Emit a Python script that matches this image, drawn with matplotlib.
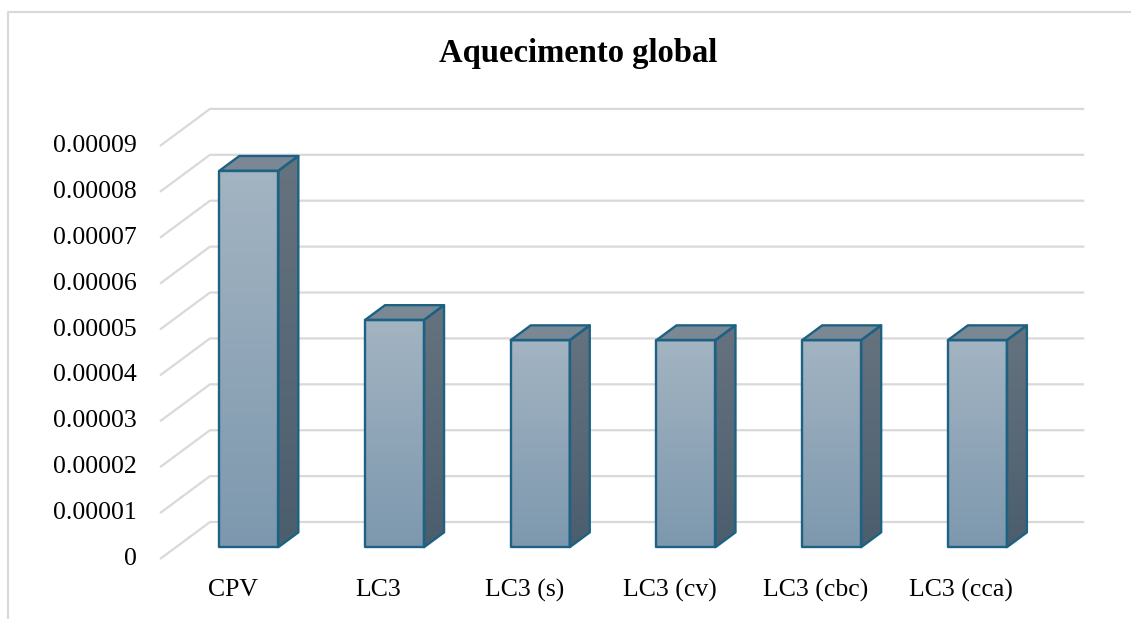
import numpy as np
import matplotlib
matplotlib.use("Agg")
import matplotlib.pyplot as plt
from matplotlib.patches import Polygon
from matplotlib.lines import Line2D

categories = ["CPV", "LC3", "LC3 (s)", "LC3 (cv)", "LC3 (cbc)", "LC3 (cca)"]
values = [0.0000820, 0.0000495, 0.0000451, 0.0000451, 0.0000451, 0.0000451]
ticks = [0, 0.00001, 0.00002, 0.00003, 0.00004, 0.00005, 0.00006, 0.00007, 0.00008, 0.00009]
tick_labels = ["0", "0.00001", "0.00002", "0.00003", "0.00004", "0.00005",
               "0.00006", "0.00007", "0.00008", "0.00009"]
title = "Aquecimento global"

W, H, DPI = 1131, 619, 100
FONT = "Liberation Serif"

# oblique "3D" projection: depth 0..1 shifts by (DX, DY) in data units
DX = 0.343
DY = 0.806e-5
BAR_HALF = 0.2025
BAR_D0, BAR_D1 = 0.32, 0.72

GRID = "#d9d9d9"
EDGE = "#1d6283"
FRONT = ("#a3b4c2", "#7d98ae")
SIDE = ("#66737f", "#4b5e6e")
TOP = "#7a8896"


def gradient_face(ax, verts, c_top, c_bot, z):
    poly = Polygon(verts, closed=True, facecolor="none", edgecolor="none")
    ax.add_patch(poly)
    xs, ys = zip(*verts)
    top = np.array(matplotlib.colors.to_rgb(c_top))
    bot = np.array(matplotlib.colors.to_rgb(c_bot))
    t = np.linspace(0, 1, 128)[:, None]
    img = (top * (1 - t) + bot * t)[:, None, :]
    im = ax.imshow(img, extent=(min(xs), max(xs), min(ys), max(ys)),
                   origin="upper", aspect="auto", zorder=z, interpolation="bilinear")
    im.set_clip_path(poly)


def main():
    fig = plt.figure(figsize=(W / DPI, H / DPI), dpi=DPI)
    ax = fig.add_axes([0, 0, 1, 1])
    ax.set_axis_off()

    # gridlines: diagonal on the left wall, horizontal on the back wall
    x0, x1 = -0.5, len(categories) - 0.5
    for v, lab in zip(ticks, tick_labels):
        ax.plot([x0, x0 + DX, x1 + DX], [v, v + DY, v + DY],
                color=GRID, lw=1.6, zorder=1, solid_capstyle="butt")
        ax.text(x0 - 0.158, v, lab, ha="right", va="center",
                fontsize=18.5, family=FONT, color="#000000")

    for i, (cat, v) in enumerate(zip(categories, values)):
        fx0 = i - BAR_HALF + BAR_D0 * DX
        fx1 = i + BAR_HALF + BAR_D0 * DX
        fy0 = BAR_D0 * DY
        fy1 = v + BAR_D0 * DY
        ddx = (BAR_D1 - BAR_D0) * DX
        ddy = (BAR_D1 - BAR_D0) * DY
        front = [(fx0, fy0), (fx1, fy0), (fx1, fy1), (fx0, fy1)]
        side = [(fx1, fy0), (fx1 + ddx, fy0 + ddy), (fx1 + ddx, fy1 + ddy), (fx1, fy1)]
        top = [(fx0, fy1), (fx1, fy1), (fx1 + ddx, fy1 + ddy), (fx0 + ddx, fy1 + ddy)]
        gradient_face(ax, front, FRONT[0], FRONT[1], 3)
        gradient_face(ax, side, SIDE[0], SIDE[1], 3)
        ax.add_patch(Polygon(top, closed=True, facecolor=TOP, edgecolor="none", zorder=3))
        for verts in (front, side, top):
            ax.add_patch(Polygon(verts, closed=True, facecolor="none",
                                 edgecolor=EDGE, lw=1.7, zorder=4, joinstyle="round"))
        ax.text(i, -0.675e-5, cat, ha="center", va="center",
                fontsize=18.5, family=FONT, color="#000000")

    ax.set_xlim(-1.598, 6.164)
    ax.set_ylim(-1.307e-5, 12.179e-5)

    fig.text(578 / W, 1 - 62 / H, title, ha="center", va="baseline",
             fontsize=23.5, fontweight="bold", family=FONT)

    # chart frame (top and left edges visible)
    fig.add_artist(Line2D([8 / W, 8 / W, 1.0], [0.0, 1 - 12 / H, 1 - 12 / H],
                          color=GRID, lw=1.5, transform=fig.transFigure))

    fig.savefig("out.png", dpi=DPI, facecolor="white")
    plt.close(fig)


if __name__ == "__main__":
    main()
